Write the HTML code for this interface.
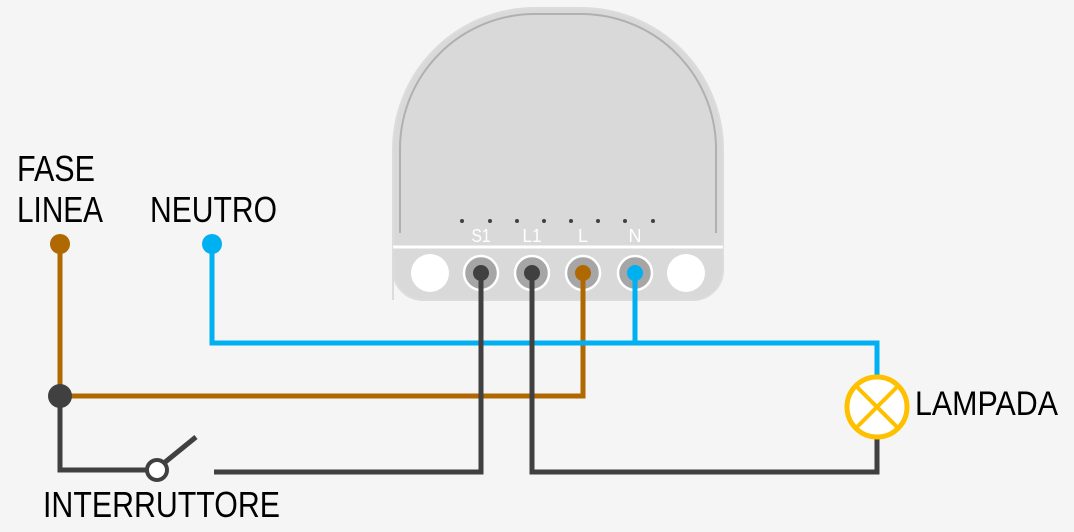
<!DOCTYPE html>
<html><head><meta charset="utf-8"><style>
html,body{margin:0;padding:0;background:#f5f5f5;}
svg{display:block}
text{font-family:"Liberation Sans",sans-serif;}
</style></head><body>
<svg width="1074" height="532" viewBox="0 0 1074 532">
<rect width="1074" height="532" fill="#f5f5f5"/>
<path d="M393 300 L393 150 A142 142 0 0 1 535 8 L581 8 A142 142 0 0 1 723 150 L723 270 A30 30 0 0 1 693 300 L423 300 A30 30 0 0 1 393 270 Z" fill="#d9d9d9" stroke="#dcdcdc" stroke-width="2"/>
<path d="M400 233 L400 150 A135 135 0 0 1 535 14 L581 14 A135 135 0 0 1 716 150 L716 233" fill="none" stroke="#b0b0b0" stroke-width="2"/>
<line x1="393" y1="247" x2="723" y2="247" stroke="#fff" stroke-width="3"/>
<g fill="#404040">
<circle cx="462" cy="221" r="2"/><circle cx="490" cy="221" r="2"/>
<circle cx="517" cy="221" r="2"/><circle cx="544" cy="221" r="2"/>
<circle cx="571" cy="221" r="2"/><circle cx="598" cy="221" r="2"/>
<circle cx="625" cy="221" r="2"/><circle cx="653" cy="221" r="2"/>
</g>
<g fill="#fff" font-size="18" text-anchor="middle">
<text x="481" y="242" textLength="19" lengthAdjust="spacingAndGlyphs">S1</text>
<text x="532" y="242" textLength="19" lengthAdjust="spacingAndGlyphs">L1</text>
<text x="583" y="242">L</text><text x="635" y="242">N</text>
</g>
<circle cx="430" cy="273" r="19" fill="#fff"/>
<circle cx="686" cy="273" r="19" fill="#fff"/>
<g fill="#a6a6a6" stroke="#fff" stroke-width="2.5">
<circle cx="481" cy="273" r="17"/><circle cx="532" cy="273" r="17"/>
<circle cx="583" cy="273" r="17"/><circle cx="635" cy="273" r="17"/>
</g>
<g fill="none" stroke-width="5">
<polyline points="60,244 60,396 583,396 583,273" stroke="#b06800"/>
<polyline points="212,244 212,343 877,343 877,377" stroke="#00b0f0"/>
<line x1="635" y1="273" x2="635" y2="343" stroke="#00b0f0"/>
<polyline points="877,437 877,472 532,472 532,273" stroke="#404040"/>
<polyline points="481,273 481,472 214,472" stroke="#404040"/>
<polyline points="60,396 60,470 150,470" stroke="#404040"/>
<line x1="164" y1="463" x2="196" y2="437" stroke="#404040"/>
</g>
<circle cx="481" cy="273" r="8" fill="#404040"/>
<circle cx="532" cy="273" r="8" fill="#404040"/>
<circle cx="583" cy="273" r="8" fill="#b06800"/>
<circle cx="635" cy="273" r="8" fill="#00b0f0"/>
<circle cx="60" cy="244" r="10" fill="#b06800"/>
<circle cx="212" cy="244" r="10" fill="#00b0f0"/>
<circle cx="60" cy="396" r="12" fill="#404040"/>
<circle cx="157" cy="470" r="10" fill="#fff" stroke="#404040" stroke-width="4"/>
<circle cx="877" cy="407" r="30" fill="#fff" stroke="#ffc000" stroke-width="5"/>
<g stroke="#ffc000" stroke-width="4">
<line x1="856" y1="386" x2="898" y2="428"/><line x1="898" y1="386" x2="856" y2="428"/>
</g>
<g fill="#000" font-size="36">
<text x="17" y="181" textLength="78" lengthAdjust="spacingAndGlyphs">FASE</text>
<text x="17" y="222" textLength="86" lengthAdjust="spacingAndGlyphs">LINEA</text>
<text x="150" y="222" textLength="127" lengthAdjust="spacingAndGlyphs">NEUTRO</text>
<text x="43" y="517" textLength="237" lengthAdjust="spacingAndGlyphs">INTERRUTTORE</text>
<text x="915" y="415" font-size="34" textLength="143" lengthAdjust="spacingAndGlyphs">LAMPADA</text>
</g>
</svg>
</body></html>
